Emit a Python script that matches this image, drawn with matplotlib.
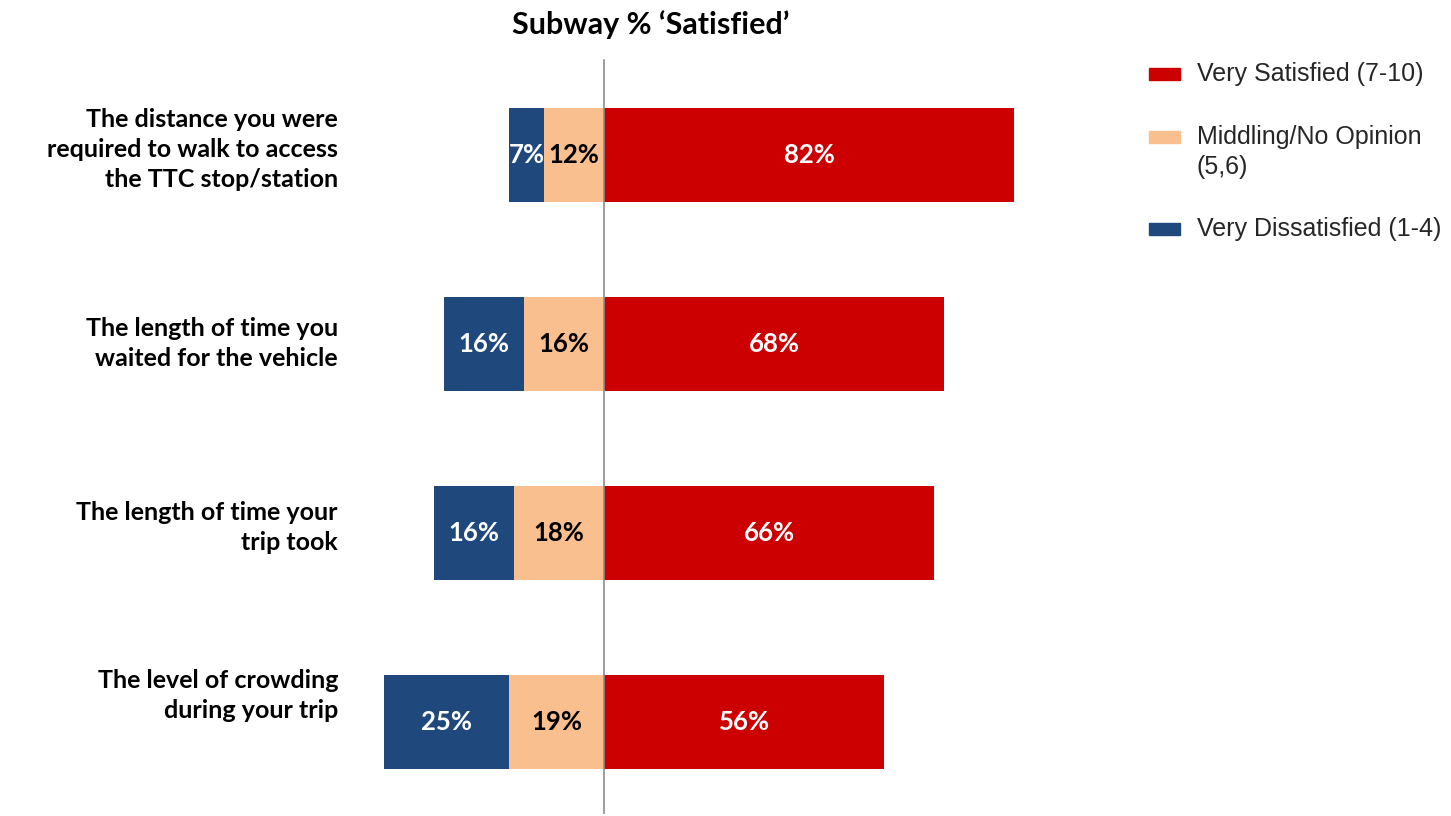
import matplotlib
matplotlib.use('Agg')
import matplotlib.pyplot as plt
from matplotlib.patches import Rectangle
from matplotlib.transforms import blended_transform_factory

# data
categories = [
    'The distance you were\nrequired to walk to access\nthe TTC stop/station',
    'The length of time you\nwaited for the vehicle',
    'The length of time your\ntrip took',
    'The level of crowding\nduring your trip',
]
satisfied = [82, 68, 66, 56]
middling = [12, 16, 18, 19]
dissatisfied = [7, 16, 16, 25]
label_shift = [-0.03, 0.0, -0.03, -0.14]

series_names = ['Very Satisfied (7-10)', 'Middling/No Opinion\n(5,6)', 'Very Dissatisfied (1-4)']
c_red = '#CC0000'
c_org = '#F9BF8F'
c_blue = '#1F497D'

W, H = 1451, 816
fig = plt.figure(figsize=(W / 100, H / 100), dpi=100)
# axes in pixel geometry: left 370, right 1080, top 35, bottom 810
ax = fig.add_axes([370 / W, 1 - 810 / H, 710 / W, 775 / H])

ypos = list(range(len(categories)))
neg_mid = [-m for m in middling]
neg_dis = [-(m + d) for m, d in zip(middling, dissatisfied)]

ax.barh(ypos, satisfied, height=0.5, color=c_red, left=0)
ax.barh(ypos, middling, height=0.5, color=c_org, left=neg_mid)
ax.barh(ypos, dissatisfied, height=0.5, color=c_blue, left=neg_dis)

ax.set_xlim(-46.8, 95.2)
ax.set_ylim(3.466, -0.635)
# zero line starts below the title
ax.axvline(0, ymin=-0.004, ymax=0.968, color='#8c8c8c', lw=1.2, zorder=5, clip_on=False)
ax.axis('off')

lbl_font = dict(family='Lato', weight='bold', fontsize=18.5)
for i in ypos:
    ax.text(satisfied[i] / 2, i, f'{satisfied[i]}%', color='white', ha='center', va='center', **lbl_font)
    ax.text(-middling[i] / 2, i, f'{middling[i]}%', color='black', ha='center', va='center', **lbl_font)
    ax.text(-middling[i] - dissatisfied[i] / 2, i, f'{dissatisfied[i]}%', color='white',
            ha='center', va='center', **lbl_font)

trans = blended_transform_factory(fig.transFigure, ax.transData)
for i, cat in enumerate(categories):
    ax.text(338 / W, i + label_shift[i], cat, transform=trans, ha='right', va='center',
            family='Lato', weight='bold', fontsize=18, linespacing=1.37)

fig.text(651 / W, 1 - 25 / H, 'Subway % \u2018Satisfied\u2019', ha='center', va='center',
         family='Lato', weight='bold', fontsize=22)

# legend drawn by hand
leg_y = [74, 137, 229]
for name, col, y in zip(series_names, [c_red, c_org, c_blue], leg_y):
    fig.patches.append(Rectangle((1149 / W, 1 - (y + 6) / H), 31 / W, 12 / H,
                                 transform=fig.transFigure, color=col))
    if '\n' in name:
        fig.text(1197 / W, 1 - (y - 12) / H, name, ha='left', va='top',
                 family='Liberation Sans', fontsize=18, color='#262626', linespacing=1.3)
    else:
        fig.text(1197 / W, 1 - y / H, name, ha='left', va='center',
                 family='Liberation Sans', fontsize=18, color='#262626')

fig.savefig('out.png', dpi=100)
